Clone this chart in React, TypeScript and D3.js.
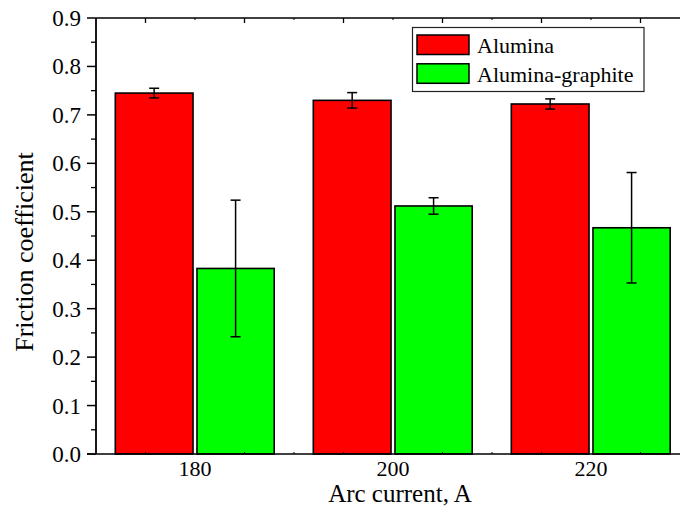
import React from "react";
import * as d3 from "d3";

const categories = [180, 200, 220];
const alumina = [0.745, 0.73, 0.7225];
const aluminaErr = [0.01, 0.016, 0.0105];
const graphite = [0.383, 0.512, 0.467];
const graphiteErr = [0.141, 0.017, 0.114];
const yTicks = [0, 0.1, 0.2, 0.3, 0.4, 0.5, 0.6, 0.7, 0.8, 0.9];
const xTickLabels = [180, 200, 220];
const seriesNames = ["Alumina", "Alumina-graphite"];
const seriesColors = ["#ff0000", "#00ff00"];

const W = 680;
const H = 508;
const left = 96;
const top = 18;
const bottom = 454;
const FONT = "Liberation Serif, Times New Roman, serif";
const tStyle = { fontFamily: FONT };

export default function App() {
  const x = d3.scaleLinear().domain([170, 230]).range([left, 690]);
  const y = d3.scaleLinear().domain([0, 0.9]).range([bottom, top]);
  const series = [
    { vals: alumina, errs: aluminaErr, x0: -8.05, x1: -0.2, color: seriesColors[0] },
    { vals: graphite, errs: graphiteErr, x0: 0.2, x1: 8.0, color: seriesColors[1] },
  ];
  const minorY = d3.range(0.05, 0.9, 0.1);
  const topMajor = d3.range(175, 230, 10);
  const topMinor = d3.range(180, 230, 10);
  const bottomMinor = d3.range(175, 230, 5).filter((v) => v % 20 !== 0);

  return (
    <svg
      width={W}
      height={H}
      style={{ position: "absolute", left: 0, top: 0, background: "#fff", fontFamily: FONT }}
    >
      <rect x={0} y={0} width={W} height={H} fill="#fff" />
      {series.map((s, si) =>
        categories.map((c, i) => {
          const bx0 = x(c + s.x0);
          const bx1 = x(c + s.x1);
          const cx = (bx0 + bx1) / 2;
          const yv = y(s.vals[i]);
          const yt = y(s.vals[i] + s.errs[i]);
          const yb = y(s.vals[i] - s.errs[i]);
          return (
            <g key={`${si}-${i}`}>
              <rect
                x={bx0}
                y={yv}
                width={bx1 - bx0}
                height={bottom - yv}
                fill={s.color}
                stroke="#000"
                strokeWidth={1.6}
              />
              <line x1={cx} x2={cx} y1={yt} y2={yb} stroke="#000" strokeWidth={1.5} />
              <line x1={cx - 5} x2={cx + 5} y1={yt} y2={yt} stroke="#000" strokeWidth={1.5} />
              <line x1={cx - 5} x2={cx + 5} y1={yb} y2={yb} stroke="#000" strokeWidth={1.5} />
            </g>
          );
        })
      )}
      {/* frame */}
      <line x1={left} x2={W} y1={top} y2={top} stroke="#000" strokeWidth={1.3} />
      <line x1={left - 9} x2={W} y1={bottom} y2={bottom} stroke="#000" strokeWidth={1.6} />
      <line x1={left} x2={left} y1={top} y2={bottom} stroke="#000" strokeWidth={1.8} />
      {/* y ticks */}
      {yTicks.map((t) => (
        <g key={`yt${t}`}>
          <line x1={left - 9} x2={left} y1={y(t)} y2={y(t)} stroke="#000" strokeWidth={1.5} />
          <text x={left - 15} y={y(t) + 8} fontSize={23} textAnchor="end" fill="#000" style={tStyle}>
            {t.toFixed(1)}
          </text>
        </g>
      ))}
      {minorY.map((t) => (
        <line key={`ym${t}`} x1={left - 5} x2={left} y1={y(t)} y2={y(t)} stroke="#000" strokeWidth={1.3} />
      ))}
      {/* top ticks */}
      {topMajor.map((t) => (
        <line key={`tm${t}`} x1={x(t)} x2={x(t)} y1={top} y2={top + 5} stroke="#000" strokeWidth={1.3} />
      ))}
      {topMinor.map((t) => (
        <line key={`tn${t}`} x1={x(t)} x2={x(t)} y1={top} y2={top + 2} stroke="#000" strokeWidth={1} />
      ))}
      {/* bottom ticks */}
      {bottomMinor.map((t) => (
        <line key={`bm${t}`} x1={x(t)} x2={x(t)} y1={bottom} y2={bottom - 2} stroke="#000" strokeWidth={1} />
      ))}
      {xTickLabels.map((t) => (
        <text key={`xl${t}`} x={x(t)} y={475.5} fontSize={22} textAnchor="middle" fill="#000" style={tStyle}>
          {t}
        </text>
      ))}
      {/* axis titles */}
      <text x={400} y={502} fontSize={25} textAnchor="middle" fill="#000" style={tStyle}>
        Arc current, A
      </text>
      <text
        transform={`translate(33, 252) rotate(-90)`}
        fontSize={26}
        textAnchor="middle"
        fill="#000"
        style={tStyle}
      >
        Friction coefficient
      </text>
      {/* legend */}
      <rect x={412.5} y={27.5} width={231.5} height={64} fill="#fff" stroke="#222" strokeWidth={1.2} />
      {seriesNames.map((n, i) => (
        <g key={n}>
          <rect
            x={417}
            y={35 + i * 28.8}
            width={52}
            height={19.5}
            fill={seriesColors[i]}
            stroke="#000"
            strokeWidth={1.5}
          />
          <text x={477} y={52.7 + i * 29} fontSize={22} fill="#000" style={tStyle}>
            {n}
          </text>
        </g>
      ))}
    </svg>
  );
}
